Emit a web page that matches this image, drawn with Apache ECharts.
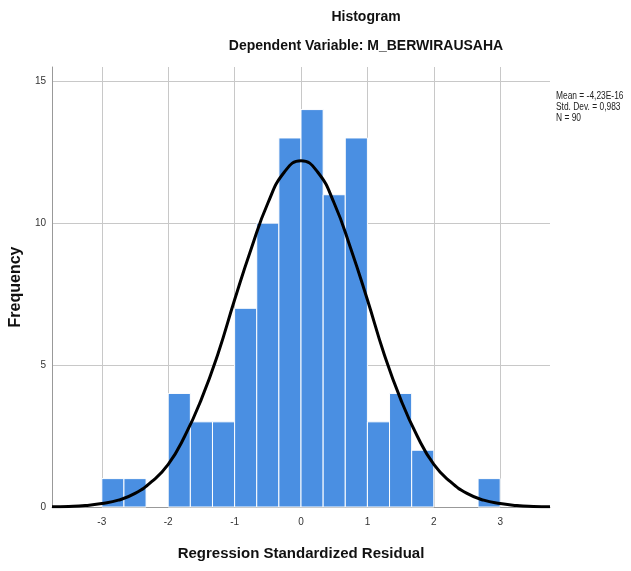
<!DOCTYPE html>
<html>
<head>
<meta charset="utf-8">
<script src="https://cdn.jsdelivr.net/npm/echarts@6/dist/echarts.min.js"></script>
<style>
  html, body { margin: 0; padding: 0; background: #fff; }
</style>
</head>
<body>
<div id="main" style="width: 631px; height: 571px"></div>
<script>
// histogram bins (left edge, width 1/3) and counts
var binLow = [-3, -2.6667, -2, -1.6667, -1.3333, -1, -0.6667, -0.3333, 0, 0.3333, 0.6667, 1, 1.3333, 1.6667, 2.6667];
var binWidth = 0.3333;
var counts = [1, 1, 4, 3, 3, 7, 10, 13, 14, 11, 13, 3, 4, 2, 1];

// normal curve
var curveX = [-3.75, -3.5, -3.25, -3, -2.75, -2.5, -2.25, -2, -1.75, -1.5, -1.25, -1, -0.75, -0.5, -0.25, 0,
  0.25, 0.5, 0.75, 1, 1.25, 1.5, 1.75, 2, 2.25, 2.5, 2.75, 3, 3.25, 3.5, 3.75];
var curveY = [0.01, 0.02, 0.05, 0.12, 0.24, 0.48, 0.89, 1.5, 2.5, 3.8, 5.4, 7.3, 9.1, 10.7, 11.8, 12.2,
  11.8, 10.7, 9.1, 7.3, 5.4, 3.8, 2.5, 1.5, 0.89, 0.48, 0.24, 0.12, 0.05, 0.02, 0.01];

var xTicks = [-3, -2, -1, 0, 1, 2, 3];
var yTicks = [0, 5, 10, 15];

var stats = ["Mean = -4,23E-16", "Std. Dev. = 0,983", "N = 90"];

var myChart = echarts.init(document.getElementById("main"));
var font = "'Liberation Sans', Arial, sans-serif";

var option = {
  animation: false,
  title: [
    {
      text: "Histogram",
      left: 361,
      top: 5,
      textAlign: "center",
      textStyle: { fontFamily: font, fontSize: 14, fontWeight: "bold", color: "#111" },
    },
    {
      text: "Dependent Variable: M_BERWIRAUSAHA",
      left: 361,
      top: 34,
      textAlign: "center",
      textStyle: { fontFamily: font, fontSize: 14, fontWeight: "bold", color: "#111" },
    },
  ],
  graphic: [
    {
      type: "text",
      x: 556,
      y: 91,
      scaleX: 0.84,
      style: {
        text: stats.join("\n"),
        font: "10px " + font,
        lineHeight: 11,
        fill: "#222",
      },
    },
  ],
  grid: {
    left: 52,
    right: 81,
    top: 67,
    bottom: 64,
  },
  xAxis: {
    type: "value",
    min: -3.75,
    max: 3.75,
    name: "Regression Standardized Residual",
    nameLocation: "middle",
    nameGap: 39,
    nameTextStyle: { fontFamily: font, fontSize: 15, fontWeight: "bold", color: "#111" },
    axisLine: { show: true, lineStyle: { color: "#999", width: 1 } },
    axisTick: { show: false, customValues: xTicks },
    axisLabel: { customValues: xTicks, margin: 10, fontFamily: font, fontSize: 10, color: "#333" },
    splitLine: { show: true, lineStyle: { color: "#c8c8c8", width: 1 } },
  },
  yAxis: {
    type: "value",
    min: 0,
    max: 15.5,
    name: "Frequency",
    nameLocation: "middle",
    nameGap: 26,
    nameTextStyle: { fontFamily: font, fontSize: 16, fontWeight: "bold", color: "#111" },
    axisLine: { show: true, onZero: false, lineStyle: { color: "#999", width: 1 } },
    axisTick: { show: false, customValues: yTicks },
    axisLabel: { customValues: yTicks, margin: 6, fontFamily: font, fontSize: 10, color: "#333" },
    splitLine: { show: true, lineStyle: { color: "#c8c8c8", width: 1 } },
  },
  series: [
    {
      name: "Frequency",
      type: "custom",
      data: binLow.map(function (x, i) { return [x, x + binWidth, counts[i]]; }),
      renderItem: function (params, api) {
        var p0 = api.coord([api.value(0), api.value(2)]);
        var p1 = api.coord([api.value(1), 0]);
        return {
          type: "rect",
          shape: { x: p0[0], y: p0[1], width: p1[0] - p0[0], height: p1[1] - p0[1] },
          style: { fill: "#4a8fe2", stroke: "#ffffff", lineWidth: 1 },
        };
      },
      z: 2,
    },
    {
      name: "Normal",
      type: "line",
      data: curveX.map(function (x, i) { return [x, curveY[i]]; }),
      smooth: true,
      symbol: "none",
      lineStyle: { color: "#000", width: 3 },
      z: 3,
    },
  ],
};

option && myChart.setOption(option);
</script>
</body>
</html>
